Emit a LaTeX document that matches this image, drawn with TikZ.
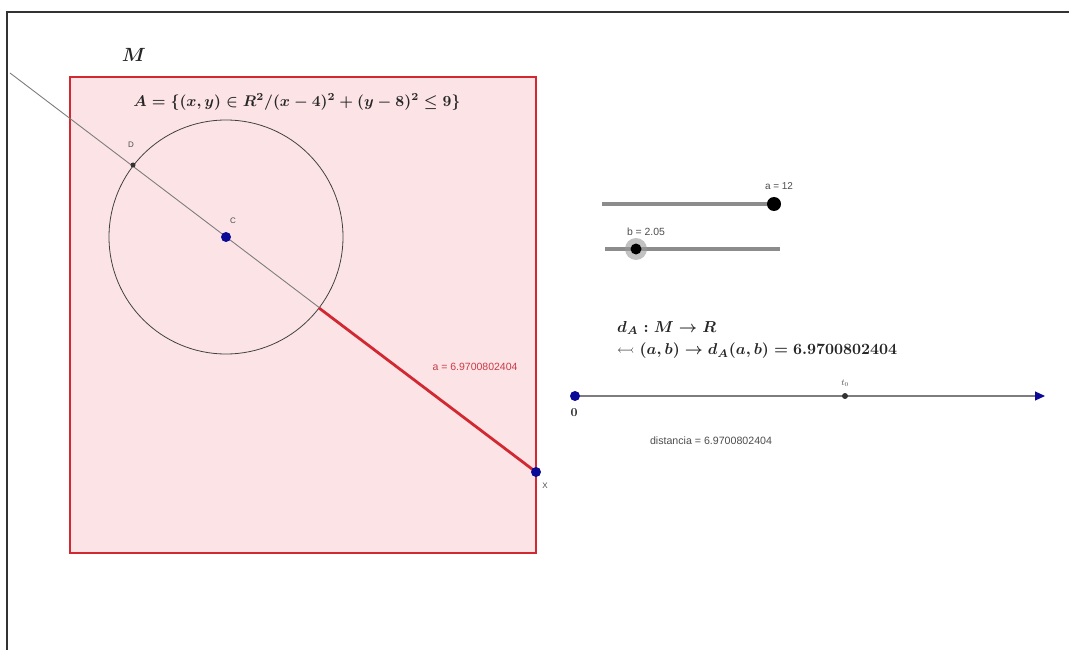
\documentclass[tikz,border=0pt]{standalone}
\usepackage{fontspec}
\usepackage{amssymb}
\newfontfamily\lblfont{Liberation Sans}
\usetikzlibrary{arrows.meta}
\definecolor{pinkfill}{RGB}{252,228,230}
\definecolor{redline}{RGB}{210,40,50}
\definecolor{redtext}{RGB}{200,60,70}
\definecolor{navy}{RGB}{10,10,150}
\definecolor{grayline}{RGB}{125,125,125}
\definecolor{slidergray}{RGB}{140,140,140}
\tikzset{
  dot/.style={circle,fill=#1,inner sep=0pt},
  smalllbl/.style={font=\lblfont\fontsize{8}{9}\selectfont,text=gray!60!black,inner sep=0pt},
  mathlbl/.style={inner sep=0pt,text=black!85},
}
\begin{document}
\begin{tikzpicture}[x=1pt,y=-1pt]
\useasboundingbox (0,0) rectangle (1069,650);
% outer frame
\draw[line width=1.5pt,black!80] (7,650) -- (7,12) -- (1069,12);
% region M
\node[draw=redline,fill=pinkfill,line width=2.5pt,minimum width=466pt,minimum height=476pt,inner sep=0pt] (Mbox) at (303,315) {};
\node[mathlbl] (Mlbl) at (134,55) {\resizebox{24pt}{!}{\boldmath$M$}};
\node[mathlbl] (Aset) at (297,102) {\resizebox{327pt}{!}{\boldmath$A=\{(x,y)\in R^2/(x-4)^2+(y-8)^2\leq 9\}$}};
% circle
\coordinate (C) at (226,237);
\node[draw=black!75,circle,minimum size=234pt,inner sep=0pt,line width=0.8pt] (circ) at (C) {};
% line
\coordinate (S) at (10,73);
\coordinate (P) at (319,308);
\coordinate (X) at (536,472);
\draw[grayline,line width=0.9pt] (S) -- (X);
\draw[redline,line width=2.8pt] (P) -- (X);
% points
\node[dot=black!80,minimum size=5pt] (D) at (133,165) {};
\node[smalllbl] (Dl) at (131,145) {D};
\node[dot=navy,minimum size=10pt] (Cp) at (C) {};
\node[smalllbl] (Cl) at (233,221) {C};
\node[dot=navy,minimum size=10pt] (Xp) at (X) {};
\node[smalllbl] (Xl) at (545,486) {X};
\node[inner sep=0pt,text=redtext] (alen) at (475,367) {\resizebox{85pt}{!}{\lblfont a = 6.9700802404}};
% sliders
\coordinate (sa1) at (602,204);
\coordinate (sa2) at (777,204);
\draw[slidergray,line width=3.2pt] (sa1) -- (sa2);
\node[dot=black,minimum size=14pt] (ap) at (774,204) {};
\node[inner sep=0pt,text=gray!60!black] (al) at (779,186) {\resizebox{28pt}{!}{\lblfont a = 12}};
\coordinate (sb1) at (605,249);
\coordinate (sb2) at (780,249);
\draw[slidergray,line width=3.2pt] (sb1) -- (sb2);
\node[dot=black!40,minimum size=22pt,opacity=0.6] (bh) at (636,249) {};
\node[dot=black,minimum size=11pt] (bp) at (636,249) {};
\node[inner sep=0pt,text=gray!60!black] (bl) at (646,232) {\resizebox{38pt}{!}{\lblfont b = 2.05}};
% function text
\node[mathlbl,anchor=west] (f1) at (617,328) {\resizebox{99pt}{!}{\boldmath$d_A: M\rightarrow R$}};
\node[mathlbl,anchor=west] (f2) at (617,351) {\resizebox{280pt}{!}{\boldmath$\leftarrowtail(a,b)\rightarrow d_A(a,b)=6.9700802404$}};
% number line
\coordinate (n0) at (575,396);
\coordinate (nend) at (1045,396);
\draw[grayline,line width=1.2pt,-{Triangle[length=10pt,width=9pt,fill=navy,color=navy]}] (n0) -- (nend);
\node[dot=navy,minimum size=10pt] (zero) at (n0) {};
\node[mathlbl] (zl) at (574,413) {\resizebox{7pt}{!}{\boldmath$0$}};
\node[dot=black!80,minimum size=6pt] (t0) at (845,396) {};
\node[inner sep=0pt,text=gray!60!black] (t0l) at (845,383) {\fontsize{9}{10}\selectfont$t_0$};
\node[inner sep=0pt,text=gray!60!black] (dist) at (711,441) {\resizebox{122pt}{!}{\lblfont distancia = 6.9700802404}};
\end{tikzpicture}
\end{document}
